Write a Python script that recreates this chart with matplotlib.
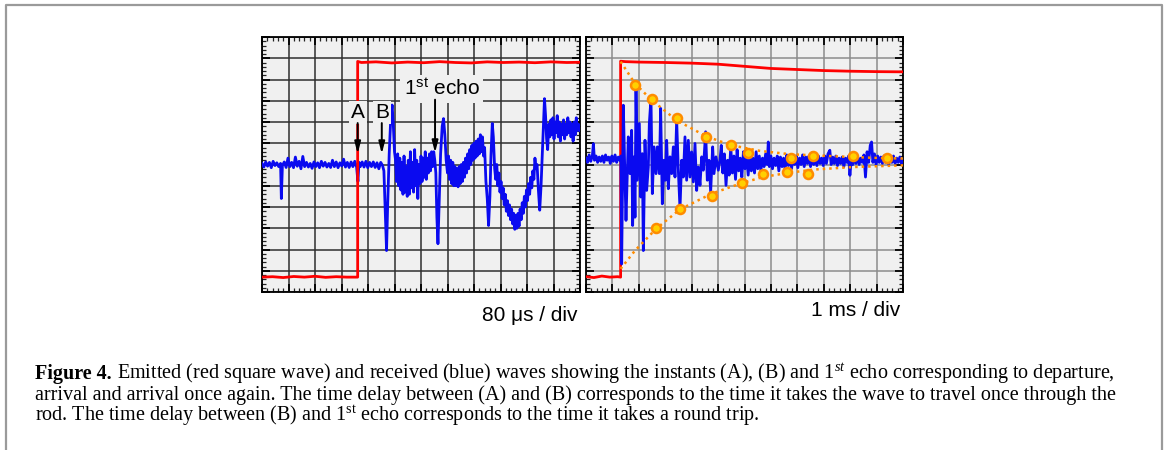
import matplotlib
matplotlib.use('Agg')
import matplotlib.pyplot as plt
from matplotlib.ticker import MultipleLocator
from matplotlib.lines import Line2D

plt.rcParams['mathtext.fontset'] = 'custom'
plt.rcParams['mathtext.rm'] = 'Liberation Serif'
plt.rcParams['mathtext.it'] = 'Liberation Serif:italic'
plt.rcParams['mathtext.sf'] = 'Liberation Sans'

# ---------------- data (oscilloscope divisions) ----------------
# Panel 1 (80 us / div) emitted square wave
p1_red_x = [0.0, 0.4, 0.8, 1.2, 1.6, 2.0, 2.4, 2.8, 3.2, 3.61, 3.61, 3.75, 4.3, 4.9, 5.5, 6.1, 6.7, 7.3, 7.9, 8.5, 9.1, 9.7, 10.3, 10.9, 11.5, 12.0]
p1_red_y = [0.70, 0.72, 0.68, 0.73, 0.70, 0.74, 0.69, 0.72, 0.70, 0.70, 10.85, 10.80, 10.83, 10.78, 10.82, 10.79, 10.84, 10.80, 10.78, 10.83, 10.80, 10.82, 10.79, 10.83, 10.80, 10.81]

# Panel 1 received wave
p1_blue_x = [0.00, 0.07, 0.14, 0.21, 0.28, 0.35, 0.42, 0.49, 0.56, 0.63, 0.70, 0.73, 0.77, 0.84, 0.91, 0.98, 1.05, 1.12, 1.19, 1.26,
             1.33, 1.40, 1.47, 1.54, 1.61, 1.68, 1.75, 1.82, 1.89, 1.96, 2.03, 2.10, 2.17, 2.24, 2.31, 2.38, 2.45, 2.52, 2.59, 2.66,
             2.73, 2.80, 2.87, 2.94, 3.01, 3.08, 3.15, 3.22, 3.29, 3.36, 3.43, 3.50, 3.57, 3.62, 3.66, 3.71, 3.78, 3.85, 3.92, 3.99,
             4.06, 4.13, 4.20, 4.27, 4.34, 4.41, 4.48, 4.55,
             4.60, 4.66, 4.70, 4.74, 4.80, 4.86, 4.91, 4.95, 5.00,
             5.04, 5.08, 5.12, 5.16, 5.20, 5.24, 5.28, 5.32, 5.36, 5.40, 5.44, 5.48, 5.52, 5.56, 5.60, 5.64, 5.68, 5.72, 5.76, 5.80,
             5.84, 5.88, 5.92, 5.96, 6.00, 6.04, 6.08, 6.12, 6.16, 6.20, 6.24, 6.28, 6.32, 6.36, 6.40, 6.44, 6.48, 6.52, 6.56, 6.60,
             6.64, 6.68, 6.74, 6.80, 6.85, 6.90, 6.95,
             7.00, 7.04, 7.08, 7.12, 7.16, 7.20, 7.24, 7.28, 7.32, 7.36, 7.40, 7.44, 7.48, 7.52, 7.56, 7.60, 7.64, 7.68, 7.72, 7.76,
             7.80, 7.84, 7.88, 7.92, 7.96, 8.00, 8.04, 8.08, 8.12, 8.16, 8.20, 8.24, 8.28, 8.32, 8.36, 8.40, 8.45, 8.50, 8.55, 8.60,
             8.64, 8.69, 8.73, 8.78, 8.82,
             8.86, 8.90, 8.94, 8.98, 9.02, 9.06, 9.10, 9.14, 9.18, 9.22, 9.26, 9.30, 9.34, 9.38, 9.42, 9.46, 9.50, 9.54, 9.58, 9.62,
             9.66, 9.70, 9.74, 9.78, 9.82, 9.86, 9.90, 9.94, 9.98, 10.02, 10.06, 10.10, 10.14, 10.18, 10.22, 10.26, 10.30, 10.34, 10.38, 10.43,
             10.48, 10.53, 10.58, 10.62, 10.66, 10.70, 10.74, 10.78,
             10.82, 10.86, 10.90, 10.94, 10.98, 11.02, 11.06, 11.10, 11.14, 11.18, 11.22, 11.26, 11.30, 11.34, 11.38, 11.42, 11.46, 11.50,
             11.54, 11.58, 11.62, 11.66, 11.70, 11.74, 11.78, 11.82, 11.86, 11.90, 11.94, 12.00]
p1_blue_y = [6.05, 5.88, 6.12, 5.92, 6.10, 5.85, 6.15, 5.95, 6.08, 5.90, 6.05, 4.40, 5.95, 6.12, 5.86, 6.30, 5.90, 6.10, 5.85, 6.35,
             5.92, 6.15, 5.80, 6.38, 5.90, 6.10, 5.88, 6.05, 5.82, 6.12, 5.90, 6.08, 5.85, 6.15, 5.92, 6.10, 5.88, 6.05, 5.86, 6.20,
             5.90, 6.12, 5.85, 6.08, 5.93, 6.25, 5.88, 6.10, 5.86, 6.12, 5.90, 6.15, 5.88, 5.20, 6.10, 5.90, 6.12, 5.88, 6.15, 5.85,
             6.10, 5.90, 6.12, 5.86, 6.08, 5.80, 6.10, 5.95,
             5.70, 3.50, 1.95, 4.00, 6.50, 8.20, 8.80, 8.00, 6.60,
             6.20, 5.20, 6.50, 5.00, 6.30, 4.80, 6.10, 4.60, 6.40, 4.70, 5.90, 4.50, 6.20, 4.60, 6.60, 4.90, 6.10, 4.70, 6.70, 5.00,
             6.20, 4.40, 6.00, 5.10, 6.40, 5.20, 6.30, 5.40, 6.60, 5.30, 6.30, 5.60, 6.50, 5.70, 6.60, 5.90, 6.60, 6.20, 5.60, 3.50,
             2.27, 4.00, 6.50, 7.80, 8.16, 7.40, 6.20,
             5.60, 6.40, 5.30, 6.20, 5.10, 6.10, 5.00, 5.90, 5.00, 5.80, 4.95, 5.90, 5.10, 6.00, 5.20, 6.10, 5.40, 6.30, 5.60, 6.50,
             5.80, 6.70, 6.00, 6.90, 6.20, 7.00, 6.30, 7.10, 6.40, 7.20, 6.50, 7.40, 6.60, 7.30, 6.40, 6.80, 5.20, 4.40, 3.13, 4.50,
             6.40, 7.93, 7.30, 5.80, 5.30,
             6.00, 5.00, 5.60, 4.70, 5.20, 4.40, 4.90, 4.10, 4.60, 3.80, 4.30, 3.60, 4.10, 3.40, 3.90, 3.20, 3.70, 2.95, 3.60, 3.00,
             3.70, 3.10, 3.90, 3.40, 4.20, 3.70, 4.50, 4.00, 4.80, 4.30, 5.10, 4.60, 5.40, 4.90, 5.70, 5.30, 6.30, 5.80, 6.00, 4.80,
             3.85, 5.00, 6.60, 7.98, 9.10, 8.30, 7.20, 6.70,
             7.90, 7.30, 8.10, 7.40, 8.20, 7.20, 8.00, 7.50, 8.30, 7.30, 8.00, 7.10, 7.90, 7.40, 8.10, 7.20, 7.90, 7.40,
             8.20, 7.50, 8.00, 7.30, 7.90, 7.10, 8.00, 7.40, 8.20, 7.60, 7.90, 7.60]

# Panel 2 (1 ms / div) emitted wave
p2_red_x = [0.0, 0.3, 0.6, 0.9, 1.2, 1.31, 1.31, 1.5, 2.0, 3.0, 4.0, 5.0, 6.0, 7.0, 8.0, 9.0, 10.0, 11.0, 12.0]
p2_red_y = [0.72, 0.68, 0.75, 0.70, 0.72, 0.70, 10.86, 10.84, 10.82, 10.80, 10.77, 10.72, 10.62, 10.52, 10.47, 10.42, 10.39, 10.37, 10.36]

# Panel 2 received wave
p2_blue_x = [0.00, 0.06, 0.12, 0.18, 0.24, 0.28, 0.32, 0.38, 0.44, 0.50, 0.56, 0.62, 0.68, 0.74, 0.80, 0.86, 0.92, 0.98, 1.04, 1.10,
             1.16, 1.22, 1.28, 1.32,
             1.350, 1.413, 1.476, 1.514, 1.602, 1.665, 1.728, 1.766, 1.817, 1.855, 1.893, 1.943, 2.019, 2.069, 2.132, 2.170, 2.233,
             2.296, 2.359, 2.397, 2.460, 2.511, 2.574, 2.650, 2.700, 2.776, 2.826, 2.889, 2.952, 3.003, 3.053, 3.116, 3.179, 3.243,
             3.306, 3.369, 3.432, 3.495, 3.558, 3.621, 3.684, 3.747, 3.810, 3.873, 3.936, 3.999, 4.063, 4.126, 4.189, 4.252, 4.315,
             4.378, 4.441, 4.529, 4.592, 4.656, 4.719, 4.794, 4.845, 4.920, 5.009, 5.072,
             5.12, 5.18, 5.24, 5.30, 5.36, 5.42, 5.48, 5.54, 5.60, 5.66, 5.72, 5.78, 5.84, 5.90, 5.96, 6.02, 6.08, 6.14, 6.20, 6.26,
             6.32, 6.38, 6.44, 6.50, 6.56, 6.62, 6.68, 6.74, 6.80, 6.86, 6.90, 6.94, 7.00, 7.06, 7.12, 7.18, 7.24, 7.30, 7.36, 7.42,
             7.48, 7.54, 7.60, 7.66, 7.72, 7.78, 7.84, 7.90, 7.96, 8.02, 8.08, 8.14, 8.20, 8.26, 8.32, 8.38, 8.44, 8.50, 8.56, 8.62,
             8.68, 8.74, 8.80, 8.86, 8.92, 8.98, 9.04, 9.10, 9.16, 9.23, 9.28, 9.34, 9.40, 9.46, 9.52, 9.58, 9.64, 9.70, 9.76, 9.82,
             9.88, 9.94, 9.99, 10.04, 10.10, 10.16, 10.22, 10.28, 10.34, 10.40, 10.46, 10.52, 10.58, 10.64, 10.70, 10.76, 10.81, 10.86,
             10.92, 10.98, 11.04, 11.10, 11.16, 11.22, 11.28, 11.34, 11.40, 11.46, 11.52, 11.58, 11.64, 11.70, 11.76, 11.82, 11.88,
             11.94, 12.00]
p2_blue_y = [6.30, 6.10, 6.45, 6.15, 6.40, 6.98, 6.20, 6.40, 6.10, 6.35, 6.15, 6.40, 6.10, 6.45, 6.20, 6.35, 6.05, 6.40, 6.15, 6.45,
             6.10, 6.35, 6.20, 6.40,
             1.32, 8.79, 5.26, 3.37, 7.30, 5.57, 7.61, 3.13, 6.36, 3.52, 9.66, 5.26, 7.93, 4.47, 6.51, 1.95, 7.14,
             4.78, 5.88, 7.93, 9.11, 4.63, 6.83, 5.57, 6.83, 5.57, 8.64, 4.15, 6.20, 5.26, 7.14, 4.86, 6.36, 5.57,
             6.83, 5.41, 8.09, 5.73, 3.92, 6.20, 5.41, 7.30, 5.26, 7.14, 5.41, 6.59, 5.18, 6.99, 4.78, 5.88, 5.02,
             6.36, 5.73, 7.54, 5.26, 6.20, 4.71, 6.83, 5.57, 6.36, 5.73, 6.20,
             6.90, 5.60, 6.50, 5.02, 6.20, 5.50, 6.80, 5.60, 6.40, 5.30, 6.70, 5.70, 6.30, 5.40, 6.60, 5.80, 6.40, 5.50, 6.50, 5.70,
             6.30, 5.60, 6.60, 5.80, 6.40, 5.70, 6.30, 5.90, 6.50, 6.00, 7.06, 5.90, 6.40, 5.80, 6.30, 5.95, 6.40, 5.70, 6.35, 5.90,
             6.30, 5.75, 6.45, 5.95, 6.35, 5.80, 6.30, 6.00, 6.40, 5.85, 6.30, 6.00, 6.45, 5.90, 6.35, 6.05, 6.40, 5.90, 6.55, 6.00,
             6.35, 5.95, 6.40, 6.05, 6.30, 5.95, 6.40, 6.05, 6.50, 6.67, 6.00, 6.35, 6.05, 6.40, 5.95, 6.30, 6.05, 6.35, 5.90, 6.30,
             6.10, 6.40, 5.49, 6.20, 6.00, 6.35, 6.05, 6.40, 6.00, 6.30, 6.10, 6.45, 5.41, 6.60, 6.10, 6.90, 7.06, 6.10,
             6.50, 6.00, 6.40, 6.10, 6.35, 6.05, 6.40, 6.10, 6.30, 6.00, 6.35, 6.10, 6.40, 6.05, 6.30, 6.10, 6.35,
             6.05, 6.25]

# Panel 2 decay envelopes (dotted curves) and picked peaks (markers)
env_up_x = [1.31, 1.855, 2.486, 3.432, 4.543, 5.489, 6.587, 7.76, 9.36, 10.75, 12.0]
env_up_y = [10.84, 9.81, 9.03, 8.08, 7.33, 6.91, 6.64, 6.48, 6.39, 6.32, 6.28]
env_lo_x = [1.31, 1.855, 2.65, 3.56, 4.76, 5.91, 6.70, 7.62, 8.61, 10.12, 12.0]
env_lo_y = [1.09, 1.95, 2.97, 3.89, 4.63, 5.13, 5.41, 5.60, 5.76, 5.88, 5.96]
peak_up_x = [1.855, 2.486, 3.432, 4.543, 5.489, 6.12, 7.76, 8.61, 10.09, 11.41]
peak_up_y = [9.74, 9.08, 8.20, 7.30, 6.94, 6.54, 6.29, 6.42, 6.42, 6.29]
peak_lo_x = [2.65, 3.56, 4.76, 5.91, 6.70, 7.62, 8.42]
peak_lo_y = [3.01, 3.89, 4.52, 5.14, 5.54, 5.65, 5.54]

# annotations (panel 1)
marks = ['A', 'B']
mark_x = [3.61, 4.52]
echo_x = 6.53

caption_lines = [
    "Emitted (red square wave) and received (blue) waves showing the instants (A), (B) and 1$^{st}$ echo corresponding to departure,",
    "arrival and arrival once again. The time delay between (A) and (B) corresponds to the time it takes the wave to travel once through the",
    "rod. The time delay between (B) and 1$^{\\rm st}$ echo corresponds to the time it takes a round trip.",
]

# ---------------- figure ----------------
W, H = 1168, 450
fig = plt.figure(figsize=(W / 100, H / 100), dpi=100)
fig.patch.set_facecolor('white')


def px_axes(x0, y0, x1, y1):
    return fig.add_axes([x0 / W, 1 - y1 / H, (x1 - x0) / W, (y1 - y0) / H])


def style(ax, gridcolor):
    ax.set_xlim(0, 12)
    ax.set_ylim(0, 12)
    ax.set_facecolor('#f0f0f0')
    ax.xaxis.set_major_locator(MultipleLocator(1))
    ax.yaxis.set_major_locator(MultipleLocator(1))
    ax.xaxis.set_minor_locator(MultipleLocator(0.2))
    ax.yaxis.set_minor_locator(MultipleLocator(0.2))
    ax.set_axisbelow(True)
    ax.grid(True, which='major', color=gridcolor, lw=1.1)
    ax.tick_params(which='both', direction='in', top=True, right=True,
                   labelbottom=False, labelleft=False)
    ax.tick_params(which='major', length=6, width=1.3, color='black')
    ax.tick_params(which='minor', length=3.2, width=0.9, color='#222222')
    for s in ax.spines.values():
        s.set_linewidth(1.3)
        s.set_color('black')


ax1 = px_axes(262, 37, 580, 292)
ax2 = px_axes(586, 37, 903, 292)
style(ax1, '#2e2e2e')
style(ax2, '#8c8c8c')

# panel 1
ax1.plot(p1_blue_x, p1_blue_y, color='#0a0af0', lw=2.0, zorder=3)
ax1.plot(p1_red_x, p1_red_y, color='#ff0000', lw=2.0, zorder=4)

sans = 'Liberation Sans'
bg = '#f0f0f0'
for m, mx in zip(marks, mark_x):
    ax1.text(mx, 8.45, m, ha='center', va='center', fontsize=15, family=sans,
             bbox=dict(facecolor=bg, edgecolor='none', pad=1.5), zorder=5)
    ax1.annotate('', xy=(mx, 6.5), xytext=(mx, 7.95),
                 arrowprops=dict(arrowstyle='-|>,head_length=0.7,head_width=0.18',
                                 color='black', lw=1.4, shrinkA=0, shrinkB=0), zorder=6)
ax1.text(6.78, 9.55, '1$^{\\mathsf{st}}$ echo', ha='center', va='center', fontsize=15, family=sans,
         bbox=dict(facecolor=bg, edgecolor='none', pad=2.5), zorder=5)
ax1.annotate('', xy=(echo_x, 6.55), xytext=(echo_x, 9.05),
             arrowprops=dict(arrowstyle='-|>,head_length=0.7,head_width=0.18',
                             color='black', lw=1.4, shrinkA=0, shrinkB=0), zorder=6)

# panel 2
ax2.plot(p2_red_x, p2_red_y, color='#ff0000', lw=2.0, zorder=3)
ax2.plot(p2_blue_x, p2_blue_y, color='#0a0af0', lw=2.0, zorder=4)
orange = '#ff8c00'
ax2.plot(env_up_x, env_up_y, color=orange, lw=1.8, ls=(0, (1, 1.6)), zorder=5)
ax2.plot(env_lo_x, env_lo_y, color=orange, lw=1.8, ls=(0, (1, 1.6)), zorder=5)
ax2.plot(peak_up_x, peak_up_y, ls='none', marker='o', ms=6.5, mfc='#ffd000', mec=orange, mew=1.8, zorder=6)
ax2.plot(peak_lo_x, peak_lo_y, ls='none', marker='o', ms=6.5, mfc='#ffd000', mec=orange, mew=1.8, zorder=6)

# scale labels
fig.text(578 / W, 1 - 321 / H, '80 \u03bcs / div', ha='right', va='baseline', fontsize=15, family=sans)
fig.text(900 / W, 1 - 316 / H, '1 ms / div', ha='right', va='baseline', fontsize=15, family=sans)

# outer frame
fig.add_artist(Line2D([6 / W, 6 / W, 1162 / W, 1162 / W], [0, 1 - 5 / H, 1 - 5 / H, 0],
                      transform=fig.transFigure, color='#9a9a9a', lw=1.6))

# caption (size fitted to the reference line width)
serif = 'Liberation Serif'
renderer = fig.canvas.get_renderer()
base_fs = 13
t2 = fig.text(35 / W, 1 - 400 / H, caption_lines[1], fontsize=base_fs, family=serif, va='baseline')
w2 = t2.get_window_extent(renderer).width
fs = base_fs * 1083 / w2
t2.set_fontsize(fs)

tb = fig.text(35 / W, 1 - 379 / H, 'Figure 4.', fontsize=fs, family=serif, fontweight='bold', va='baseline')
bb = tb.get_window_extent(renderer)
gap = 0.25 * fs * 100 / 72
fig.text((bb.x1 + gap) / W, 1 - 379 / H, caption_lines[0], fontsize=fs, family=serif, va='baseline')
fig.text(35 / W, 1 - 421 / H, caption_lines[2], fontsize=fs, family=serif, va='baseline')

fig.savefig('out.png', dpi=100)
